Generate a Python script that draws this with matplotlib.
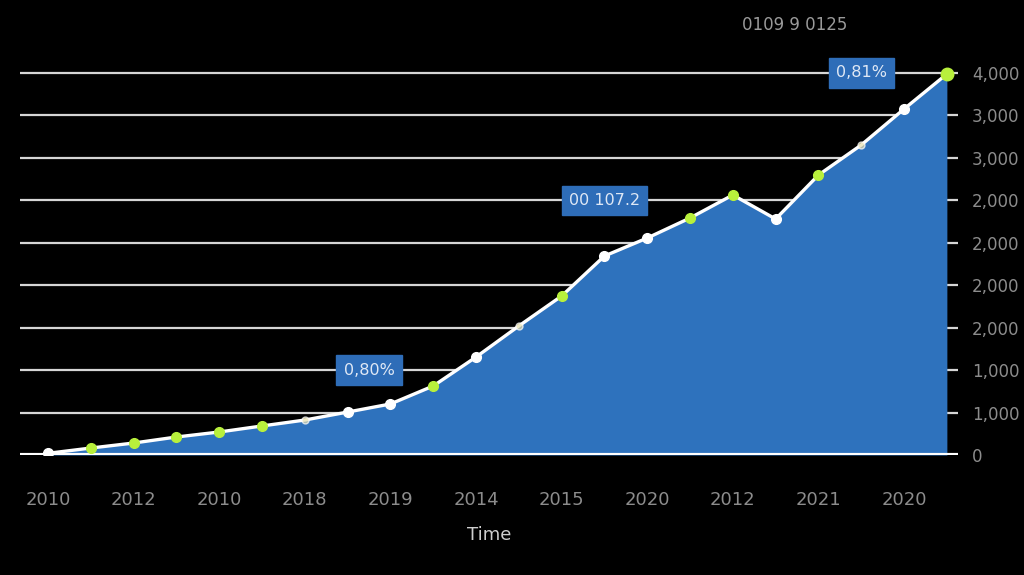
import numpy as np
import matplotlib
matplotlib.use("Agg")
import matplotlib.pyplot as plt

# data
steps = np.arange(22)
values = [20, 82, 141, 212, 271, 342, 412, 506, 601, 813, 1154, 1520,
          1873, 2344, 2556, 2792, 3063, 2780, 3298, 3652, 4076, 4488]
year_labels = ["2010", "2012", "2010", "2018", "2019", "2014",
               "2015", "2020", "2012", "2021", "2020"]
y_ticks = [0, 500, 1000, 1500, 2000, 2500, 3000, 3500, 4000, 4500]
y_labels = ["0", "1,000", "1,000", "2,000", "2,000", "2,000",
            "2,000", "3,000", "3,000", "4,000"]
callouts = [(7.5, 1000, "0,80%"), (13.0, 3000, "00 107.2"), (19.0, 4500, "0,81%")]
title_text = "0109 9 0125"

green = "#b8f03c"
marker_kind = ["w", "g", "g", "g", "g", "g", "f", "w", "w", "g", "w", "f",
               "g", "w", "w", "g", "g", "w", "g", "f", "w", "g"]

fig = plt.figure(figsize=(10.24, 5.75), dpi=100, facecolor="black")
ax = fig.add_axes([20 / 1024, 120 / 575, 938 / 1024, 395 / 575])
ax.set_facecolor("black")
ax.set_xlim(-0.654, 21.26)
ax.set_ylim(0, 4653)

for t in y_ticks[1:]:
    ax.axhline(t, color="#d6d6d6", lw=1.6, zorder=1)

ax.fill_between(steps, values, 0, color="#2e72bd", lw=0, zorder=2)
ax.axhline(0, color="white", lw=3, zorder=4)
ax.plot(steps, values, color="white", lw=2.4, zorder=5)

for x, y, k in zip(steps, values, marker_kind):
    if k == "g":
        ax.plot(x, y, "o", ms=7, color=green, mec=green, zorder=6)
    elif k == "w":
        ax.plot(x, y, "o", ms=7, color="white", mec="white", zorder=6)
    else:
        ax.plot(x, y, "o", ms=5, color="#e8e0b0", mec="white", alpha=0.7, zorder=6)
ax.plot(steps[-1], values[-1], "o", ms=9, color=green, zorder=7)

for x, y, s in callouts:
    ax.text(x, y, s, ha="center", va="center", color="#dfe8f5", fontsize=11.5,
            zorder=8,
            bbox=dict(boxstyle="square,pad=0.45", fc="#2e6db8", ec="#2e6db8"))

ax.set_xticks(steps[::2])
ax.set_xticklabels(year_labels, color="#8c8c8c", fontsize=13)
ax.tick_params(axis="x", length=0, pad=26)
ax.yaxis.tick_right()
ax.set_yticks(y_ticks)
ax.set_yticklabels(y_labels, color="#8c8c8c", fontsize=12)
ax.tick_params(axis="y", length=0, pad=10)
for sp in ax.spines.values():
    sp.set_visible(False)

ax.set_xlabel("Time", color="#cfcfcf", fontsize=13, labelpad=12)
fig.text(795 / 1024, 1 - 25 / 575, title_text, color="#9a9a9a", fontsize=12,
         ha="center", va="center")

fig.savefig("out.png", dpi=100, facecolor="black")
